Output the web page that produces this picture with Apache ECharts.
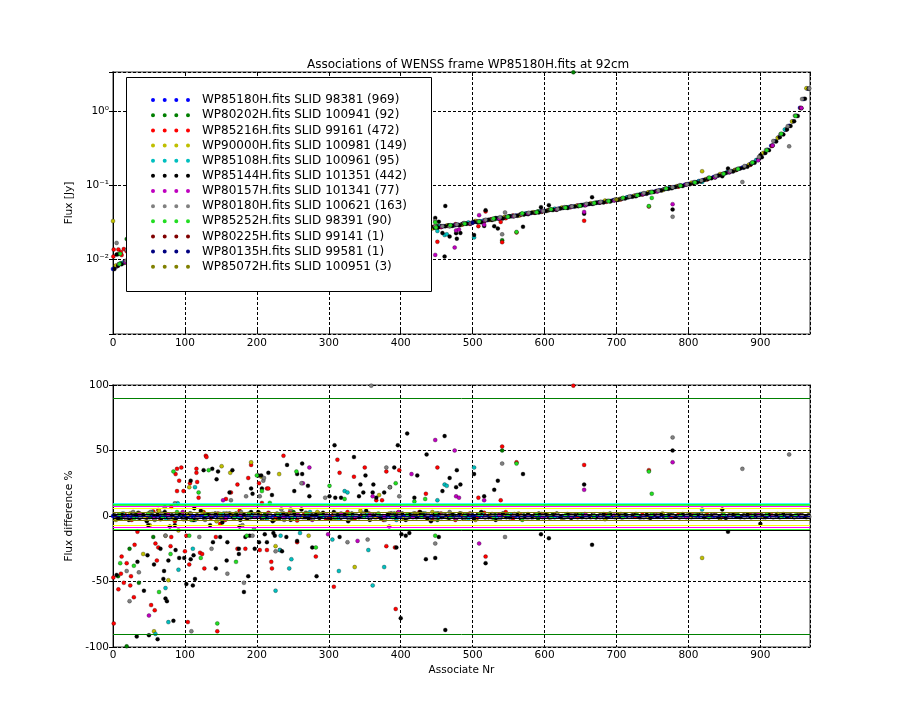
<!DOCTYPE html>
<html><head><meta charset="utf-8">
<script src="https://cdn.jsdelivr.net/npm/echarts@6/dist/echarts.min.js"></script>
<style>html,body{margin:0;padding:0;background:#fff}#c{width:900px;height:720px}</style>
</head><body><div id="c"></div>
<script>
// ---------------- DATA ----------------
const seriesNames = [
  'WP85180H.fits SLID 98381 (969)',
  'WP80202H.fits SLID 100941 (92)',
  'WP85216H.fits SLID 99161 (472)',
  'WP90000H.fits SLID 100981 (149)',
  'WP85108H.fits SLID 100961 (95)',
  'WP85144H.fits SLID 101351 (442)',
  'WP80157H.fits SLID 101341 (77)',
  'WP80180H.fits SLID 100621 (163)',
  'WP85252H.fits SLID 98391 (90)',
  'WP80225H.fits SLID 99141 (1)',
  'WP80135H.fits SLID 99581 (1)',
  'WP85072H.fits SLID 100951 (3)'
];
const titleText = 'Associations of WENSS frame WP85180H.fits at 92cm';
const logTickLabels = {'0':'10\u2070','-1':'10\u207B\u00B9','-2':'10\u207B\u00B2'};
const diffTicks = [-100, -50, 0, 50, 100];

// Flux of the reference frame (WP85180H), sorted, associate Nr 0,5,10,...,965
const mainFlux = [
 .0075,.0081,.0088,.0092,.0095,.0098,.0100,.0101,.0102,.0104,
 .0105,.0106,.0107,.0109,.0110,.0111,.0113,.0114,.0115,.0117,
 .0118,.0120,.0121,.0123,.0124,.0126,.0127,.0129,.0130,.0132,
 .0134,.0135,.0137,.0139,.0140,.0142,.0144,.0146,.0147,.0149,
 .0151,.0153,.0155,.0157,.0158,.0160,.0162,.0164,.0166,.0168,
 .0170,.0173,.0175,.0177,.0179,.0181,.0183,.0186,.0188,.0190,
 .0193,.0195,.0197,.0200,.0202,.0205,.0207,.0210,.0212,.0215,
 .0217,.0220,.0223,.0225,.0228,.0231,.0234,.0236,.0239,.0242,
 .0245,.0248,.0251,.0254,.0257,.0260,.0263,.0266,.0268,.0271,
 .0276,.0279,.0282,.0285,.0288,.0291,.0295,.0300,.0305,.0310,
 .0316,.0322,.0328,.0334,.0340,.0346,.0352,.0359,.0365,.0372,
 .0379,.0386,.0393,.0400,.0407,.0415,.0422,.0430,.0438,.0446,
 .0454,.0462,.0470,.0478,.0486,.0494,.0503,.0511,.0520,.0529,
 .0538,.0547,.0557,.0566,.0576,.0586,.0596,.0607,.0617,.0628,
 .0639,.0655,.0671,.0688,.0705,.0722,.0740,.0758,.0777,.0796,
 .0816,.0836,.0857,.0878,.0900,.0922,.0945,.0968,.0992,.1016,
 .104,.107,.110,.114,.117,.121,.125,.129,.134,.139,
 .144,.150,.155,.161,.167,.173,.180,.190,.202,.219,
 .239,.27,.30,.34,.39,.44,.49,.56,.63,.72,
 .86,1.10,1.45,2.0
];
const mainStep = 5;

// Flux difference % of the associated frames: near-zero bands (regular associate Nr grid) ...
const blackBand = [ // Nr 2,7,12,...
 0.5,-2,1.5,-1,-3,2,0.5,-1.5,1,-4,2.5,-0.5,1,-2,3,-1,0.5,-2.5,1.5,-1,
 -1.5,2,-3,0.5,4,-2,1,-0.5,2,-1,-5,1.5,2,-1,0.5,-3,1,-1.5,3,-0.5,
 3,-2,-1,0.5,-4,1,-1,2,0.5,-3,1.5,-0.5,5,-1,-2,0.5,1,-1.5,2.5,-1,
 -2,3,0.5,-1,1,-4,2,-0.5,-1,1.5,4,-3,0.5,1,-1.5,-2,1,2,-1,0.5,
 2,-3,1,-0.5,-1,3,0.5,-2,-4,1,2,-1,0.5,-1.5,1,-0.5,2,-2,0.5,1,
 -2,1,3,-0.5,-1,1.5,-3,0.5,2,-1,-1,0.5,1,-2,-0.5,1.5,-1,0.5,2,-0.5,
 1,-1,0.5,2,-0.5,-1,1.5,-1.5,0.5,1,-1,0.5,-0.5,1,-1,0.5,1.5,-1,0.5,-0.5,
 0.5,-1,1,-0.5,0.5,1.5,-1,-0.5,1,-1.5,0.5,-0.5,1,-1,0.5,1,-0.5,-1,1.5,-0.5,
 1,-0.5,0.5,1.5,-1,-0.5,0.5,1,-1,0.5,-1.5,0.5,1,-0.5,-1,0.5,1,-1,0.5,-0.5,
 0.5,-1,1,-0.5,0.5,-1,1.5,-0.5,0.5,-1,0.5,1,-0.5,0.5
];
const redBand = [ // Nr 6,16,26,...
 -2,1.5,-3,2,-1,3.5,-2.5,1,-4,2, 1,-2,3,-1.5,2,-3,0.5,4,-2,1,
 -1,2.5,-2,1,3,-3.5,1.5,-1,2,-2, 1,-1.5,3,-2,0.5,2,-1,-3,1.5,2.5,
 -2,1,3,-1,-2.5,2,-0.5,-3,1,2, -1.5,2.5,-1,0.5,3,-2,1,-1,0.5,1.5,
 -1,1,null,0.5,-1,1.5,null,-0.5,1,null, 1.5,null,-0.5,1,null,0.5,null,-1,1,null,
 0.5,null,1,null,-0.5,null,0.5,null,1,null, null,0.5,null,-0.5,null,0.5,null
];
const grayBand = [ // Nr 8,18,28,...
 1,-2,3,-1,0.5,-3,2,-1.5,1,-2.5, 2,-1,-3,1.5,-0.5,2,-2,3,-1,0.5,
 -1.5,1,2,-3,0.5,-1,2.5,-2,1,-0.5, 1.5,-1,-2,0.5,2,-1.5,1,-3,0.5,1,
 -1,2,-0.5,1,-2,0.5,3,-1,-2,1.5, 0.5,-1,1,-2,0.5,1.5,-0.5,-1,1,0.5,
 -0.5,1,-1,0.5,0.5,-1,1,-0.5,0.5,-1, 1,-0.5,0.5,-1,0.5,1,-0.5,0.5,-1,0.5,
 -0.5,1,-1,0.5,0.5,-0.5,1,-1,0.5,-0.5, 0.5,-1,0.5,1,-0.5,0.5,-0.5
];
const yellowBand = [ // Nr 4,24,44,...
 -3,2,-1,4,-2,1,3,-4,1.5,-1, 2,-3,1,-1,3,-2,0.5,4,-1,2,
 -2,1,3,-1,2,-3,1,-0.5,2,-1, 1,-1.5,0.5,-1,-2.5,1,0.5,-1,2,-0.5,
 -1,0.5,-2,1,0.5,-1,1.5,-0.5,-1
];
const cyanBand = [ // Nr 14,34,54,...
 2,-1,3,-2,1,-3,0.5,2,-1,1, -2,1.5,-1,3,-0.5,-2,1,2,-1,-3,
 1,2,-1,0.5,-2,1,-0.5,1,-1,0.5, -1,0.5,1,-0.5,null,0.5,-1,null,0.5,null,
 0.5,null,-0.5,null,0.5,null,-0.5,null
];
const limeBand = [ // Nr 9,29,49,...
 1,-2,2,-1,3,-3,0.5,1.5,-1,2, -1,1,-2,2,0.5,-1.5,1,-0.5,2,-1,
 1,-0.5,2,-1,0.5,1,-1.5,0.5,-3,1, -1,0.5,1,-0.5,0.5,-1,0.5,1,-0.5,0.5,
 0.5,-1,1,0.5,-0.5,1,-0.5,0.5
];
const magentaBand = [ // Nr 17,37,57,...
 -1,2,-2,1,3,-1,0.5,-2,1,-0.5, 2,-1,1,-3,0.5,2,-1,1,-0.5,3,
 -1,1,0.5,-2,1.5,-1,0.5,1,-0.5,-1, 0.5,-0.5,1,-1,0.5,null,-0.5,1,null,-1,
 null,0.5,-0.5,null,1,-0.5,null,0.5
];
const dgreenBand = [ // Nr 11,31,51,...
 -2,1,-1,2,0.5,-3,1,-1.5,2,-1, 1,-2,3,-1,0.5,1.5,-2,1,-0.5,2,
 -1,2,-3,1,-0.5,2,1,-1,0.5,-2, 1,-0.5,0.5,-1,2
];
const bandStart = {black:2, red:6, gray:8, yellow:4, cyan:14, lime:9, magenta:17, dgreen:11};
const bandStep  = {black:5, red:10, gray:10, yellow:20, cyan:20, lime:20, magenta:20, dgreen:20};

// ... and individual points [associate Nr, flux difference %]
const dgreenPts = [[7,-46],[19,-99.5],[23,-25],[36,-51],[35,2.5],[56,-16],[541,50],[640,-6250]];
const redPts = [[1,-82],[0.5,-47],[7.5,-56],[12,-31],[11,-44],[15,-51],[19,-36],[24,-53],[25,-46],[30,-22],[29,-62],[34,-12],[53,-68],[58,-72],[59,-21],[61,-34],[63,-24],[63,4.6],[80,-23],[81,-16],[81,7],[89,36],[87,32],[89,19],[92,27],[95,37],[98,19],[100,-27],[102,-15],[104,-81],[106,-37],[107,25],[116,36],[116,33],[117,26],[119,14],[121,-28],[124,-29],[127,-40],[129,46],[130,45],[143,-16],[145,-88],[149,-6],[157,13],[164,18],[173,-25],[173,24],[184,-25],[188,29],[192,39],[203,25],[204,-26],[207,10],[214,21],[216,21],[214,-26],[220,-35],[221,-40],[232,-26],[237,46],[256,-20],[282,-31],[307,-54],[312,43],[315,33],[335,30],[350,37],[366,12],[374,12],[380,34],[380,-23],[392,-24],[393,-71],[398,35],[435,17],[451,37],[508,14],[518,-31],[539,12],[541,53],[561,41],[640,99.5],[655,39],[745,35]];
const yellowPts = [[0,-340],[42,-29],[51,-7],[57,-88],[73,-15],[77,-49],[91,-11],[106,22],[151,38],[163,33],[192,41],[206,30],[226,-23],[231,32],[272,-15],[336,-39],[370,16],[819,-32]];
const cyanPts = [[59,-90],[73,-55],[77,-81],[90,9.7],[91,-41],[111,-25],[114,22],[226,-57],[232,-26],[233,-15],[245,-40],[248,-33],[260,-13],[305,-18],[314,-42],[322,19],[326,18],[355,-26],[361,-53],[377,-39],[451,12],[461,24],[464,23],[502,37],[819,5]];
const blackPts = [[5,-45],[33,-92],[34,-35],[43,-57],[48,-30],[50,-91],[49,-7],[57,-37],[62,-94],[66,-25],[71,-42],[70,-48],[73,-63],[75,-65],[77,-34],[79,-8],[84,-80],[87,-26],[86,-7],[92,-32],[99,-32],[102,-52],[108,-33],[108,27],[111,-53],[113,6],[112,-30],[114,-48],[126,35],[135,-7],[138,36],[139,-20],[143,-40],[144,28],[146,34],[149,-16],[158,-34],[159,-20],[162,18],[166,35],[175,-25],[175,-29],[176,-8],[182,-58],[184,-16],[188,-46],[190,-15],[192,21],[194,17],[197,-25],[202,31],[203,-20],[206,31],[207,21],[211,-14],[214,-20],[216,33],[221,16],[223,-13],[225,-15],[235,-27],[241,-16],[242,39],[252,19],[256,32],[256,-19],[263,40],[263,32],[271,23],[273,15],[277,-24],[283,-46],[301,15],[308,54],[309,14],[315,-16],[317,14],[335,45],[344,24],[342,15],[348,18],[351,31],[362,24],[361,18],[366,14],[377,18],[385,22],[391,37],[394,-24],[396,54],[400,-78],[401,-14],[409,63],[407,-15],[412,-13],[419,14],[423,31],[435,-33],[436,47],[448,-32],[453,-16],[458,19],[461,61],[462,-87],[468,29],[478,35],[477,22],[483,24],[502,32],[516,15],[518,-36],[530,20],[535,27],[570,32],[595,-14],[606,-17],[655,24],[666,-22],[778,50],[847,5],[855,-12],[900,-6]];
const magentaPts = [[50,-76],[153,12],[264,25],[273,37],[299,-14],[340,-19],[361,15],[384,-8],[415,32],[448,58],[475,50],[477,15],[481,14],[509,-21],[516,12],[655,20],[778,41]];
const grayPts = [[5,-107],[19,-42],[23,-65],[36,-43],[52,3],[72,6.6],[73,-15],[86,9.7],[109,-88],[120,-16],[137,-25],[151,-2],[159,-44],[164,12],[180,-7],[182,-51],[185,15],[194,-15],[196,-10],[204,15],[209,27],[210,29],[226,-27],[234,5],[247,5],[262,25],[295,14],[326,-20],[354,-18],[359,99.5],[380,37],[385,22],[398,15],[448,-21],[541,40],[545,-16],[778,60],[875,36],[940,47]];
const limePts = [[10,-36],[29,-38],[64,-58],[80,-29],[84,34],[106,-15],[119,18],[122,-32],[133,35],[145,-82],[171,-35],[186,-15],[200,31],[207,19],[218,10],[255,34],[282,-24],[301,23],[322,13],[393,25],[419,11],[434,13],[448,-15],[561,40],[749,17],[745,34]];
const maroonPts = [[300,-1.5]];
const navyPts = [[500,0.5]];
const olivePts = [[150,-1],[420,2],[700,-0.5]];

// Horizontal reference levels in the difference panel (%)
const refLevels = [90, 9.6, 8.8, 7.2, 5.9, 2.6, 1.2, -0.5, -2.0, -3.4, -7.0, -8.7, -10.2, -11.0, -90];

// ---------------- STYLE ----------------
const seriesColors = ['#0000ff','#007f00','#ff0000','#bfbf00','#00bfbf','#000000','#bf00bf','#808080','#22dd22','#800000','#000080','#808000'];
const refColors = ['#008000','#00ffff','#00ff00','#ff00ff','#ffff00','#808000','#000000','#000080','#000000','#808000','#ffff00','#ff00ff','#00ff00','#000000','#008000'];
const refWidths = [1,1.5,1.5,1.2,1.2,1,1,1,1,1,1.2,1.2,1.5,1,1];
const FONT = 'DejaVu Sans';

// ---------------- BUILD ----------------
function mainAt(x){ let i = Math.round(x / mainStep); i = Math.max(0, Math.min(mainFlux.length - 1, i)); return mainFlux[i]; }
function band(arr, key){ const out = []; arr.forEach((d, i) => { if (d !== null) out.push([bandStart[key] + i * bandStep[key], d]); }); return out; }

const diffSets = [
  mainFlux.map((f, i) => [i * mainStep, 0]),
  band(dgreenBand, 'dgreen').concat(dgreenPts),
  band(redBand, 'red').concat(redPts),
  band(yellowBand, 'yellow').concat(yellowPts),
  band(cyanBand, 'cyan').concat(cyanPts),
  band(blackBand, 'black').concat(blackPts),
  band(magentaBand, 'magenta').concat(magentaPts),
  band(grayBand, 'gray').concat(grayPts),
  band(limeBand, 'lime').concat(limePts),
  maroonPts, navyPts, olivePts
];
// flux difference % = (F_ref - F_assoc) / F_ref * 100  ->  F_assoc = F_ref * (1 - d/100)
const fluxSets = diffSets.map((set, k) => k === 0
  ? mainFlux.map((f, i) => [i * mainStep, f])
  : set.map(([x, d]) => [x, mainAt(x) * (1 - d / 100)]).filter(p => p[1] > 0));

const series = [];
const mk = (name, k, data, xi, yi) => ({
  type: 'scatter', name, data, xAxisIndex: xi, yAxisIndex: yi, clip: true,
  symbol: 'circle', symbolSize: 4, animation: false, silent: true,
  itemStyle: { color: seriesColors[k], borderColor: 'rgba(0,0,0,0.55)', borderWidth: 0.5, opacity: 1 },
  z: 2
});
seriesNames.forEach((n, k) => series.push(mk(n, k, fluxSets[k], 0, 0)));
seriesNames.forEach((n, k) => series.push(mk(n, k, diffSets[k], 2, 2)));
series.push({
  type: 'scatter', name: 'levels', data: [], xAxisIndex: 2, yAxisIndex: 2, z: 3, animation: false, silent: true,
  markLine: { symbol: 'none', silent: true, animation: false, label: { show: false },
    data: refLevels.map((v, i) => ({ yAxis: v, lineStyle: { color: refColors[i], width: refWidths[i], type: 'solid' } })) }
});

const lbl = { fontFamily: FONT, fontSize: 10.5, color: '#000' };
const tick = { inside: true, length: 4, lineStyle: { color: '#000', width: 1 } };
const split = { show: true, lineStyle: { color: '#000', type: [3, 2], width: 1 } };
const xBase = (gi) => ({ type: 'value', gridIndex: gi, min: 0, max: 969, interval: 100 });

const option = {
  backgroundColor: '#fff',
  animation: false,
  textStyle: { fontFamily: FONT },
  title: { text: titleText, left: 302, top: 54, textStyle: { fontFamily: FONT, fontSize: 12, fontWeight: 'normal', color: '#000' } },
  grid: [
    { left: 113, top: 72, width: 697, height: 262, show: true, borderColor: '#999', borderWidth: 2, backgroundColor: 'transparent' },
    { left: 113, top: 385, width: 697, height: 262, show: true, borderColor: '#999', borderWidth: 2, backgroundColor: 'transparent' }
  ],
  xAxis: [
    Object.assign(xBase(0), { position: 'bottom', axisLine: { show: false }, axisTick: tick, splitLine: split,
      axisLabel: Object.assign({ margin: 4, showMaxLabel: false, formatter: v => (v % 100 === 0 ? String(v) : '') }, lbl) }),
    Object.assign(xBase(0), { position: 'top', axisLine: { show: false }, axisTick: tick, splitLine: { show: false }, axisLabel: { show: false } }),
    Object.assign(xBase(1), { position: 'bottom', axisLine: { show: false }, axisTick: tick, splitLine: split,
      name: 'Associate Nr', nameLocation: 'middle', nameGap: 18, nameTextStyle: lbl,
      axisLabel: Object.assign({ margin: 3, showMaxLabel: false, formatter: v => (v % 100 === 0 ? String(v) : '') }, lbl) }),
    Object.assign(xBase(1), { position: 'top', axisLine: { show: false }, axisTick: tick, splitLine: { show: false }, axisLabel: { show: false } })
  ],
  yAxis: [
    { type: 'log', logBase: 10, gridIndex: 0, min: 0.001, max: 3.34, position: 'left',
      axisLine: { show: true, lineStyle: { color: '#000', width: 1 } }, axisTick: tick, splitLine: split,
      name: 'Flux [Jy]', nameLocation: 'middle', nameGap: 28, nameRotate: 90, nameTextStyle: lbl,
      axisLabel: Object.assign({ margin: 4, showMinLabel: false, showMaxLabel: false, formatter: v => {
        const e = Math.log10(v); const r = Math.round(e);
        if (Math.abs(e - r) > 1e-6) return '';
        return logTickLabels[String(r)] || '';
      } }, lbl) },
    { type: 'log', logBase: 10, gridIndex: 0, min: 0.001, max: 3.34, position: 'right',
      axisLine: { show: false }, axisTick: tick, splitLine: { show: false }, axisLabel: { show: false } },
    { type: 'value', gridIndex: 1, min: diffTicks[0], max: diffTicks[diffTicks.length - 1], interval: 50, position: 'left',
      axisLine: { show: true, lineStyle: { color: '#000', width: 1 } }, axisTick: tick, splitLine: split,
      name: 'Flux difference %', nameLocation: 'middle', nameGap: 33, nameRotate: 90, nameTextStyle: lbl,
      axisLabel: Object.assign({ margin: 4 }, lbl) },
    { type: 'value', gridIndex: 1, min: -100, max: 100, interval: 50, position: 'right',
      axisLine: { show: false }, axisTick: tick, splitLine: { show: false }, axisLabel: { show: false } }
  ],
  legend: {
    data: seriesNames, orient: 'vertical', left: 151, top: 92.5, padding: 0,
    itemWidth: 39, itemHeight: 4, itemGap: 0, selectedMode: false, z: 20,
    itemStyle: { borderWidth: 0 },
    icon: 'path://M0,2a2,2 0 1,0 4,0a2,2 0 1,0 -4,0ZM11.7,2a2,2 0 1,0 4,0a2,2 0 1,0 -4,0ZM23.3,2a2,2 0 1,0 4,0a2,2 0 1,0 -4,0ZM35,2a2,2 0 1,0 4,0a2,2 0 1,0 -4,0Z',
    textStyle: { fontFamily: FONT, fontSize: 12, color: '#000', lineHeight: 15.15, padding: [0, 0, 0, 7] }
  },
  graphic: [{ type: 'rect', z: 10, zlevel: 0, silent: true,
    shape: { x: 126.5, y: 77.5, width: 305, height: 214 }, style: { fill: '#fff', stroke: '#000', lineWidth: 1 } }],
  series
};
const chart = echarts.init(document.getElementById('c'), null, { renderer: 'canvas' });
chart.setOption(option);
</script>
</body></html>
